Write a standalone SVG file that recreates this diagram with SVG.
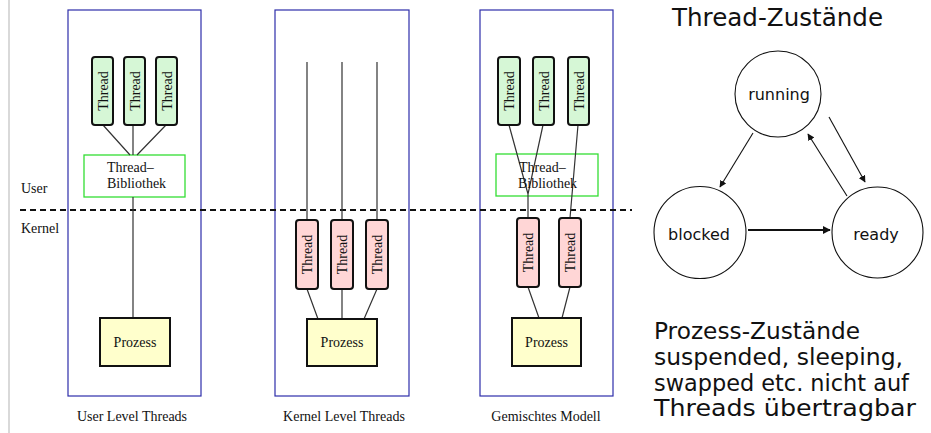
<svg xmlns="http://www.w3.org/2000/svg" width="931" height="433" viewBox="0 0 931 433">
<defs>
<style>
.frame{fill:none;stroke:#2e2eaa;stroke-width:1.2}
.lib{fill:#fff;stroke:#33dd33;stroke-width:1.3}
.tg{fill:#d6f7d6;stroke:#111;stroke-width:2}
.tr{fill:#ffd6d6;stroke:#111;stroke-width:2}
.pz{fill:#ffffcc;stroke:#111;stroke-width:2}
.ln{stroke:#333;stroke-width:1.2;fill:none}
.serif{font-family:"Liberation Serif","Times New Roman",serif;font-size:14px;fill:#111}
.sans{font-family:"DejaVu Sans","Noto Sans",sans-serif;fill:#111}
.st{fill:#fff;stroke:#111;stroke-width:1.1}
.arr{stroke:#111;stroke-width:1.1;fill:none;marker-end:url(#ah)}
</style>
<marker id="ah" viewBox="0 0 10 10" refX="9" refY="5" markerWidth="7" markerHeight="7" markerUnits="userSpaceOnUse" orient="auto">
<path d="M0,0 L10,5 L0,10 z" fill="#111"/>
</marker>
<marker id="ah2" viewBox="0 0 10 10" refX="9" refY="5" markerWidth="8" markerHeight="8" markerUnits="userSpaceOnUse" orient="auto">
<path d="M0,0 L10,5 L0,10 z" fill="#111"/>
</marker>
</defs>
<rect width="931" height="433" fill="#fff"/>
<line x1="9" y1="0" x2="9" y2="433" stroke="#cccccc" stroke-width="1.5"/>

<g id="frames">
<rect class="frame" x="68" y="10" width="133" height="386"/>
<rect class="frame" x="275" y="10" width="134" height="386"/>
<rect class="frame" x="480" y="10" width="133" height="386"/>
</g>

<g id="labels">
<text class="serif" x="21" y="193">User</text>
<text class="serif" x="21" y="233">Kernel</text>
<text class="serif" x="132" y="421" text-anchor="middle">User Level Threads</text>
<text class="serif" x="344" y="421" text-anchor="middle">Kernel Level Threads</text>
<text class="serif" x="546" y="421" text-anchor="middle">Gemischtes Modell</text>
</g>

<g id="lib1"><rect class="lib" x="84" y="155" width="101" height="42"/></g>
<g id="lib3"><rect class="lib" x="496" y="154" width="102" height="42"/></g>

<g id="connectors">
<line x1="20" y1="210" x2="632" y2="210" stroke="#111" stroke-width="2" stroke-dasharray="6,4"/>
<path class="ln" d="M103,125 L130,155 M133,125 L133,155 M166,125 L137,155 M133,197 L133,318"/>
<path class="ln" d="M307,62 L307,220 M342,62 L342,220 M377,62 L377,220 M307,289 L318,319 M342,289 L342,319 M377,289 L364,319"/>
<path class="ln" d="M509,125 L528,194 M543,125 L528,194 L528,218 M578,125 L570,218 M528,287 L539,318 M570,287 L562,318"/>
<line class="arr" x1="753" y1="133" x2="720" y2="187"/>
<line class="arr" x1="829" y1="117" x2="865" y2="182"/>
<line class="arr" x1="847" y1="196" x2="808" y2="134"/>
<line x1="748" y1="230" x2="830" y2="230" stroke="#111" stroke-width="2" marker-end="url(#ah2)"/>
</g>

<g id="lib1-text">
<text class="serif" x="107" y="172">Thread–</text>
<text class="serif" x="107" y="188">Bibliothek</text>
</g>
<g id="lib3-text">
<text class="serif" x="519" y="172">Thread–</text>
<text class="serif" x="518" y="188">Bibliothek</text>
</g>

<g id="ult-t1"><rect class="tg" x="92" y="57" width="21" height="68" rx="3"/><text class="serif" transform="translate(107.5,91) rotate(-90)" text-anchor="middle">Thread</text></g>
<g id="ult-t2"><rect class="tg" x="124" y="57" width="21" height="68" rx="3"/><text class="serif" transform="translate(139.5,91) rotate(-90)" text-anchor="middle">Thread</text></g>
<g id="ult-t3"><rect class="tg" x="156" y="57" width="21" height="68" rx="3"/><text class="serif" transform="translate(171.5,91) rotate(-90)" text-anchor="middle">Thread</text></g>
<g id="ult-p"><rect class="pz" x="100" y="318" width="70" height="48"/><text class="serif" x="135" y="347" text-anchor="middle">Prozess</text></g>

<g id="klt-t1"><rect class="tr" x="296" y="220" width="22" height="69" rx="3"/><text class="serif" transform="translate(312,254.5) rotate(-90)" text-anchor="middle">Thread</text></g>
<g id="klt-t2"><rect class="tr" x="331" y="220" width="22" height="69" rx="3"/><text class="serif" transform="translate(347,254.5) rotate(-90)" text-anchor="middle">Thread</text></g>
<g id="klt-t3"><rect class="tr" x="366" y="220" width="22" height="69" rx="3"/><text class="serif" transform="translate(382,254.5) rotate(-90)" text-anchor="middle">Thread</text></g>
<g id="klt-p"><rect class="pz" x="307" y="319" width="70" height="47"/><text class="serif" x="342" y="347" text-anchor="middle">Prozess</text></g>

<g id="mix-t1"><rect class="tg" x="498" y="57" width="22" height="68" rx="3"/><text class="serif" transform="translate(514,91) rotate(-90)" text-anchor="middle">Thread</text></g>
<g id="mix-t2"><rect class="tg" x="533" y="57" width="21" height="68" rx="3"/><text class="serif" transform="translate(548.5,91) rotate(-90)" text-anchor="middle">Thread</text></g>
<g id="mix-t3"><rect class="tg" x="568" y="57" width="21" height="68" rx="3"/><text class="serif" transform="translate(583.5,91) rotate(-90)" text-anchor="middle">Thread</text></g>
<g id="mix-k1"><rect class="tr" x="517" y="218" width="22" height="69" rx="3"/><text class="serif" transform="translate(533,252.5) rotate(-90)" text-anchor="middle">Thread</text></g>
<g id="mix-k2"><rect class="tr" x="559" y="218" width="22" height="69" rx="3"/><text class="serif" transform="translate(575,252.5) rotate(-90)" text-anchor="middle">Thread</text></g>
<g id="mix-p"><rect class="pz" x="512" y="318" width="69" height="48"/><text class="serif" x="546.5" y="347" text-anchor="middle">Prozess</text></g>

<g id="title"><text class="sans" x="672" y="26" font-size="24.5" textLength="211" lengthAdjust="spacingAndGlyphs">Thread-Zustände</text></g>
<g id="running"><circle class="st" cx="778" cy="94" r="43"/><text class="sans" x="779" y="100" font-size="16" text-anchor="middle">running</text></g>
<g id="blocked"><circle class="st" cx="700" cy="232.5" r="46"/><text class="sans" x="699" y="240" font-size="16" text-anchor="middle">blocked</text></g>
<g id="ready"><circle class="st" cx="877.5" cy="232.5" r="45.5"/><text class="sans" x="876" y="240" font-size="16" text-anchor="middle">ready</text></g>

<g id="note" class="sans" font-size="23">
<text x="654" y="339" textLength="206" lengthAdjust="spacingAndGlyphs">Prozess-Zustände</text>
<text x="654" y="365" textLength="249" lengthAdjust="spacingAndGlyphs">suspended, sleeping,</text>
<text x="654" y="391" textLength="255" lengthAdjust="spacingAndGlyphs">swapped etc. nicht auf</text>
<text x="654" y="416" textLength="262" lengthAdjust="spacingAndGlyphs">Threads übertragbar</text>
</g>
</svg>
